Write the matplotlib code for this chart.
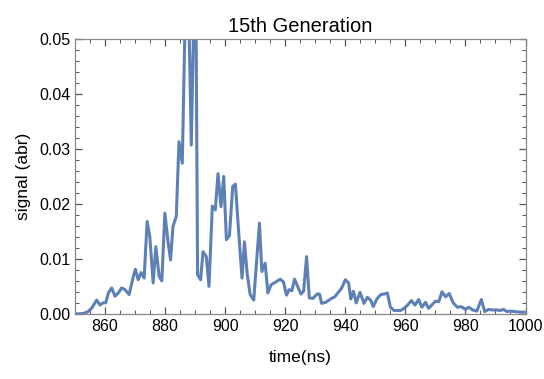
import matplotlib.pyplot as plt
import numpy as np
from matplotlib.ticker import MultipleLocator, FormatStrFormatter

plt.rcParams['font.family'] = ['Liberation Sans', 'DejaVu Sans']

# time (ns) and signal (arb.)
t = [850.0, 851.5, 853.0, 854.3, 855.5, 857.2, 858.3, 859.3, 860.2, 861.1,
     862.2, 863.3, 864.4, 865.5, 866.6, 868.0, 869.4, 870.1, 871.0, 872.0,
     873.0, 874.0, 874.9, 876.0, 876.9, 878.0, 878.9, 879.9, 881.0, 881.8,
     882.6, 883.7, 884.6, 885.7, 887.3, 888.7, 890.1, 890.8, 891.8, 892.6,
     893.7, 894.6, 895.7, 896.7, 897.6, 898.6, 899.5, 900.4, 901.4, 902.5,
     903.4, 904.5, 905.6, 906.4, 907.3, 908.3, 909.5, 911.4, 912.2, 913.3,
     914.2, 915.3, 916.6, 918.3, 919.4, 920.4, 921.3, 922.2, 923.1, 924.1,
     925.2, 926.1, 927.1, 928.0, 929.2, 930.6, 931.4, 932.1, 933.5, 935.4,
     936.5, 937.8, 938.8, 940.0, 941.1, 941.8, 942.7, 943.6, 944.9, 946.2,
     947.3, 948.4, 949.3, 950.5, 951.8, 953.0, 954.0, 955.0, 956.2, 957.3,
     958.4, 959.3, 960.6, 962.0, 963.2, 964.4, 965.5, 966.7, 967.7, 968.8,
     970.0, 971.1, 972.2, 973.4, 974.6, 975.9, 977.3, 978.7, 980.0, 981.1,
     982.4, 983.8, 985.3, 986.4, 987.7, 989.0, 990.5, 991.6, 992.7, 993.8,
     995.0, 996.6, 998.2, 1000.0]
signal = [0.0000, 0.0000, 0.0001, 0.0004, 0.0010, 0.0025, 0.0016, 0.0020, 0.0020, 0.0038,
          0.0047, 0.0032, 0.0038, 0.0047, 0.0044, 0.0035, 0.0068, 0.0081, 0.0062, 0.0075,
          0.0065, 0.0168, 0.0140, 0.0056, 0.0122, 0.0068, 0.0060, 0.0183, 0.0129, 0.0098,
          0.0159, 0.0177, 0.0313, 0.0274, 0.0720, 0.0307, 0.0700, 0.0071, 0.0062, 0.0113,
          0.0104, 0.0050, 0.0196, 0.0189, 0.0255, 0.0195, 0.0250, 0.0135, 0.0142, 0.0232,
          0.0236, 0.0147, 0.0065, 0.0131, 0.0074, 0.0035, 0.0025, 0.0165, 0.0077, 0.0092,
          0.0038, 0.0053, 0.0057, 0.0063, 0.0058, 0.0034, 0.0044, 0.0042, 0.0063, 0.0050,
          0.0036, 0.0041, 0.0104, 0.0029, 0.0028, 0.0036, 0.0036, 0.0019, 0.0021, 0.0028,
          0.0031, 0.0040, 0.0047, 0.0062, 0.0056, 0.0027, 0.0041, 0.0020, 0.0039, 0.0019,
          0.0030, 0.0025, 0.0013, 0.0027, 0.0035, 0.0036, 0.0038, 0.0012, 0.0006, 0.0006,
          0.0006, 0.0009, 0.0015, 0.0024, 0.0016, 0.0026, 0.0012, 0.0021, 0.0010, 0.0016,
          0.0023, 0.0022, 0.0040, 0.0031, 0.0037, 0.0020, 0.0012, 0.0013, 0.0008, 0.0012,
          0.0007, 0.0005, 0.0026, 0.0004, 0.0008, 0.0007, 0.0007, 0.0006, 0.0008, 0.0004,
          0.0005, 0.0004, 0.0003, 0.0003]

fig = plt.figure(figsize=(5.44, 3.79), dpi=100)
ax = fig.add_axes([0.138, 0.172, 0.828, 0.725])

ax.plot(t, signal, color='#5e81b5', linewidth=2.2)

ax.set_xlim(850, 1000)
ax.set_ylim(0, 0.05)
ax.set_title('15th Generation', fontsize=14.5, pad=5)
ax.set_xlabel('time(ns)', fontsize=12.5, labelpad=12)
ax.set_ylabel('signal (abr)', fontsize=12.5, labelpad=6)

ax.xaxis.set_major_locator(MultipleLocator(20))
ax.xaxis.set_minor_locator(MultipleLocator(5))
ax.yaxis.set_major_locator(MultipleLocator(0.01))
ax.yaxis.set_minor_locator(MultipleLocator(0.002))
ax.yaxis.set_major_formatter(FormatStrFormatter('%.2f'))

ax.tick_params(which='both', direction='in', top=True, right=True, color='#555555', labelsize=11.5)
ax.tick_params(which='major', length=5, width=0.9)
ax.tick_params(which='minor', length=3, width=0.7)
for s in ax.spines.values():
    s.set_color('#888888')
    s.set_linewidth(0.9)

fig.savefig('out.png', dpi=100)
